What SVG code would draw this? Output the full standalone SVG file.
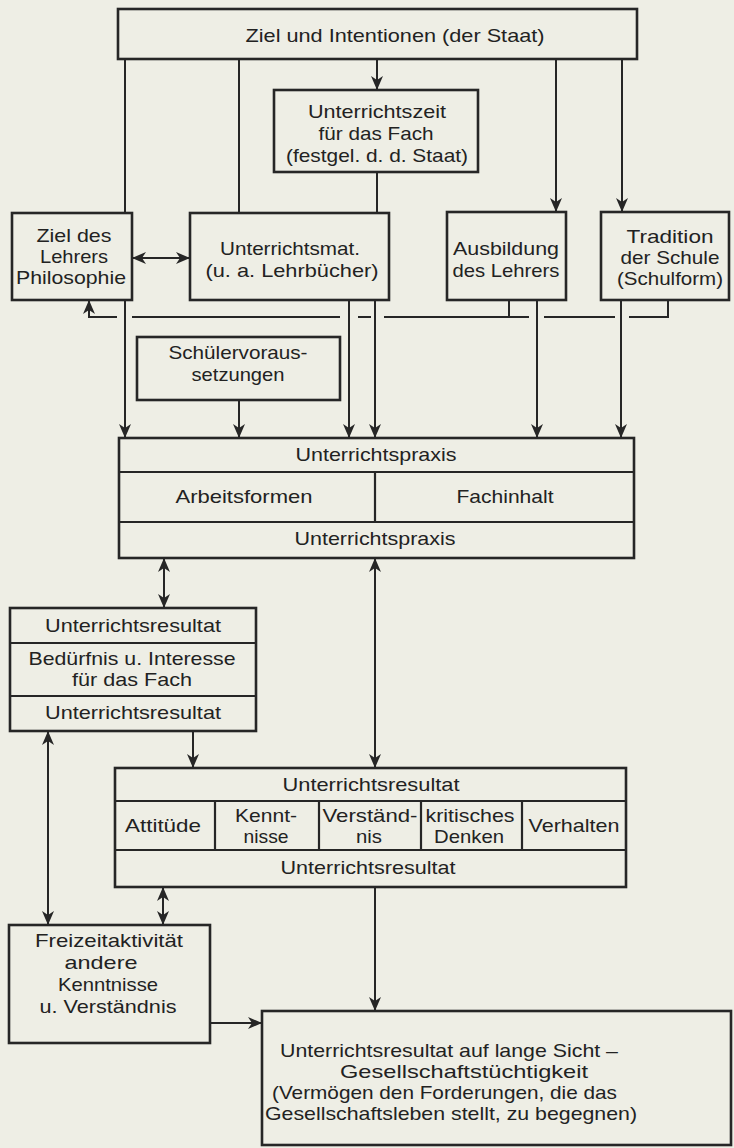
<svg xmlns="http://www.w3.org/2000/svg" width="734" height="1148" viewBox="0 0 734 1148">
<defs>
<style>
.bg{fill:#eeeee5}
.box{fill:none;stroke:#262626;stroke-width:2.6}
.dv{fill:none;stroke:#262626;stroke-width:2.2}
.ln{fill:none;stroke:#262626;stroke-width:2}
.a{marker-end:url(#arr)}
.aa{marker-start:url(#arr);marker-end:url(#arr)}
text{font-family:"Liberation Sans",Arial,sans-serif;font-size:19px;fill:#222;text-anchor:middle}
text.l{text-anchor:start}
</style>
<marker id="arr" viewBox="0 0 14 12" refX="14" refY="6" markerWidth="14" markerHeight="12" markerUnits="userSpaceOnUse" orient="auto-start-reverse"><path d="M0,0 L14,6 L0,12 L4,6 Z" fill="#262626"/></marker>
</defs>
<rect class="bg" width="734" height="1148"/>

<g id="connectors">
<path class="ln a" d="M377,59 V90"/>
<path class="ln" d="M125,59 V213"/>
<path class="ln" d="M239,59 V213"/>
<path class="ln a" d="M556,59 V212"/>
<path class="ln a" d="M622,59 V212"/>
<path class="ln" d="M377,172 V213"/>
<path class="ln aa" d="M132,258 H190"/>
<path class="ln a" d="M125,300 V438"/>
<path class="ln a" d="M239,400 V438"/>
<path class="ln a" d="M349,300 V438"/>
<path class="ln a" d="M375,300 V438"/>
<path class="ln a" d="M537,300 V438"/>
<path class="ln a" d="M621,300 V438"/>
<path class="ln" d="M509,300 V317"/>
<path class="ln" d="M668,300 V317 H629"/>
<path class="ln" d="M615,317 H544"/>
<path class="ln" d="M529,317 H384"/>
<path class="ln" d="M371,317 H358"/>
<path class="ln" d="M340,317 H132"/>
<path class="ln a" d="M117,317 H89 V300"/>
<path class="ln aa" d="M164,558 V608"/>
<path class="ln aa" d="M375,558 V768"/>
<path class="ln a" d="M193,731 V768"/>
<path class="ln aa" d="M48,731 V925"/>
<path class="ln aa" d="M163,887 V925"/>
<path class="ln a" d="M375,887 V1011"/>
<path class="ln a" d="M210,1023 H262"/>
</g>

<g id="ziel-staat">
<rect class="box" x="118" y="9" width="519" height="50"/>
<text x="395" y="42" textLength="299" lengthAdjust="spacingAndGlyphs">Ziel und Intentionen (der Staat)</text>
</g>

<g id="unterrichtszeit">
<rect class="box" x="274" y="90" width="204" height="82"/>
<text x="377" y="118" textLength="138" lengthAdjust="spacingAndGlyphs">Unterrichtszeit</text>
<text x="376" y="140" textLength="115" lengthAdjust="spacingAndGlyphs">für das Fach</text>
<text x="377" y="162" textLength="182" lengthAdjust="spacingAndGlyphs">(festgel. d. d. Staat)</text>
</g>

<g id="ziel-lehrer">
<rect class="box" x="12" y="213" width="120" height="87"/>
<text x="74" y="242" textLength="75" lengthAdjust="spacingAndGlyphs">Ziel des</text>
<text x="74" y="263" textLength="68" lengthAdjust="spacingAndGlyphs">Lehrers</text>
<text x="71" y="284" textLength="110" lengthAdjust="spacingAndGlyphs">Philosophie</text>
</g>

<g id="unterrichtsmat">
<rect class="box" x="190" y="213" width="199" height="87"/>
<text x="290" y="255" textLength="140" lengthAdjust="spacingAndGlyphs">Unterrichtsmat.</text>
<text x="292" y="277" textLength="173" lengthAdjust="spacingAndGlyphs">(u. a. Lehrbücher)</text>
</g>

<g id="ausbildung">
<rect class="box" x="447" y="212" width="119" height="88"/>
<text x="506" y="255" textLength="106" lengthAdjust="spacingAndGlyphs">Ausbildung</text>
<text x="506" y="277" textLength="107" lengthAdjust="spacingAndGlyphs">des Lehrers</text>
</g>

<g id="tradition">
<rect class="box" x="601" y="212" width="128" height="88"/>
<text x="670" y="243" textLength="87" lengthAdjust="spacingAndGlyphs">Tradition</text>
<text x="670" y="264" textLength="99" lengthAdjust="spacingAndGlyphs">der Schule</text>
<text x="670" y="285" textLength="106" lengthAdjust="spacingAndGlyphs">(Schulform)</text>
</g>

<g id="schuelervoraussetzungen">
<rect class="box" x="137" y="337" width="203" height="63"/>
<text x="238" y="359" textLength="139" lengthAdjust="spacingAndGlyphs">Schülervoraus-</text>
<text x="238" y="381" textLength="93" lengthAdjust="spacingAndGlyphs">setzungen</text>
</g>

<g id="unterrichtspraxis">
<rect class="box" x="119" y="438" width="515" height="120"/>
<path class="dv" d="M119,472 H634 M119,522 H634 M375,472 V522"/>
<text x="376" y="461" textLength="161" lengthAdjust="spacingAndGlyphs">Unterrichtspraxis</text>
<text x="244" y="503" textLength="137" lengthAdjust="spacingAndGlyphs">Arbeitsformen</text>
<text x="505" y="503" textLength="97" lengthAdjust="spacingAndGlyphs">Fachinhalt</text>
<text x="375" y="545" textLength="161" lengthAdjust="spacingAndGlyphs">Unterrichtspraxis</text>
</g>

<g id="resultat-beduerfnis">
<rect class="box" x="10" y="608" width="246" height="123"/>
<path class="dv" d="M10,643 H256 M10,696 H256"/>
<text x="133" y="632" textLength="176" lengthAdjust="spacingAndGlyphs">Unterrichtsresultat</text>
<text x="132" y="665" textLength="207" lengthAdjust="spacingAndGlyphs">Bedürfnis u. Interesse</text>
<text x="132" y="686" textLength="120" lengthAdjust="spacingAndGlyphs">für das Fach</text>
<text x="133" y="719" textLength="176" lengthAdjust="spacingAndGlyphs">Unterrichtsresultat</text>
</g>

<g id="resultat-gesamt">
<rect class="box" x="115" y="768" width="511" height="119"/>
<path class="dv" d="M115,801 H626 M115,850 H626 M215,801 V850 M319,801 V850 M421,801 V850 M522,801 V850"/>
<text x="371" y="791" textLength="177" lengthAdjust="spacingAndGlyphs">Unterrichtsresultat</text>
<text x="163" y="832" textLength="76" lengthAdjust="spacingAndGlyphs">Attitüde</text>
<text x="266" y="822" textLength="62" lengthAdjust="spacingAndGlyphs">Kennt-</text>
<text x="266" y="843" textLength="45" lengthAdjust="spacingAndGlyphs">nisse</text>
<text x="370" y="822" textLength="95" lengthAdjust="spacingAndGlyphs">Verständ-</text>
<text x="369" y="843" textLength="26" lengthAdjust="spacingAndGlyphs">nis</text>
<text x="470" y="822" textLength="89" lengthAdjust="spacingAndGlyphs">kritisches</text>
<text x="469" y="843" textLength="70" lengthAdjust="spacingAndGlyphs">Denken</text>
<text x="574" y="832" textLength="91" lengthAdjust="spacingAndGlyphs">Verhalten</text>
<text x="368" y="874" textLength="175" lengthAdjust="spacingAndGlyphs">Unterrichtsresultat</text>
</g>

<g id="freizeit">
<rect class="box" x="9" y="925" width="201" height="118"/>
<text x="109" y="947" textLength="148" lengthAdjust="spacingAndGlyphs">Freizeitaktivität</text>
<text x="101" y="969" textLength="73" lengthAdjust="spacingAndGlyphs">andere</text>
<text x="108" y="991" textLength="100" lengthAdjust="spacingAndGlyphs">Kenntnisse</text>
<text x="108" y="1013" textLength="137" lengthAdjust="spacingAndGlyphs">u. Verständnis</text>
</g>

<g id="langfristig">
<rect class="box" x="262" y="1011" width="469" height="134"/>
<text class="l" x="280" y="1057" textLength="338" lengthAdjust="spacingAndGlyphs">Unterrichtsresultat auf lange Sicht –</text>
<text class="l" x="340" y="1078" textLength="248" lengthAdjust="spacingAndGlyphs">Gesellschaftstüchtigkeit</text>
<text class="l" x="272" y="1099" textLength="345" lengthAdjust="spacingAndGlyphs">(Vermögen den Forderungen, die das</text>
<text class="l" x="265" y="1120" textLength="372" lengthAdjust="spacingAndGlyphs">Gesellschaftsleben stellt, zu begegnen)</text>
</g>
</svg>
